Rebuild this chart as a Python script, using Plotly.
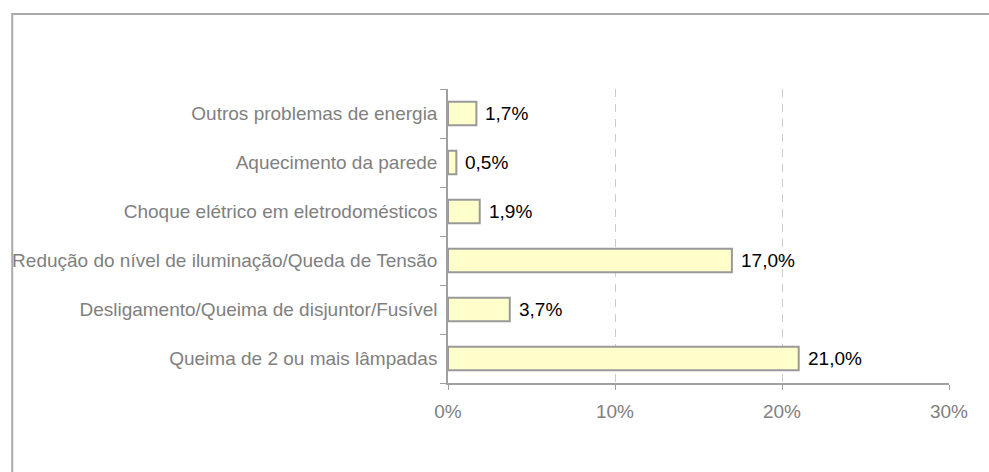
import plotly.graph_objects as go

categories = [
    "Queima de 2 ou mais lâmpadas",
    "Desligamento/Queima de disjuntor/Fusível",
    "Redução do nível de iluminação/Queda de Tensão",
    "Choque elétrico em eletrodomésticos",
    "Aquecimento da parede",
    "Outros problemas de energia",
]
values = [21.0, 3.7, 17.0, 1.9, 0.5, 1.7]
x_ticks = [0, 10, 20, 30]
x_tick_labels = ["0%", "10%", "20%", "30%"]

labels = [f"{v:.1f}%".replace(".", ",") for v in values]

FONT = "Liberation Sans, Arial, Helvetica, sans-serif"
FS = 19

fig = go.Figure(
    go.Bar(
        x=values,
        y=categories,
        orientation="h",
        marker=dict(color="#FFFFCC", line=dict(color="#999999", width=2)),
        width=0.48,
        hoverinfo="skip",
    )
)

for v, c, t in zip(values, categories, labels):
    fig.add_annotation(
        x=v, y=c, xref="x", yref="y",
        text=t, showarrow=False,
        xanchor="left", yanchor="middle",
        xshift=7,
        font=dict(color="#000000", size=FS, family=FONT),
    )

W, H = 989, 472
L, R, T, B = 446, 40, 89, 89
pw = W - L - R
ph = H - T - B

def px_to_paper_x(px):
    return (px - L) / pw

def px_to_paper_y(py):
    return (H - B - py) / ph

fig.add_shape(
    type="rect",
    xref="paper", yref="paper",
    x0=px_to_paper_x(8.5), x1=px_to_paper_x(1000),
    y0=px_to_paper_y(490), y1=px_to_paper_y(14),
    line=dict(color="#AAAAAA", width=2),
    fillcolor="rgba(0,0,0,0)",
    layer="below",
)

fig.update_layout(
    width=W, height=H,
    margin=dict(l=L, r=R, t=T, b=B, pad=0),
    paper_bgcolor="white",
    plot_bgcolor="white",
    showlegend=False,
    font=dict(family=FONT, size=FS, color="#808080"),
    xaxis=dict(
        range=[0, 30],
        tickvals=x_ticks,
        ticktext=x_tick_labels,
        showgrid=True,
        gridcolor="#CCCCCC",
        griddash="8px,7px",
        gridwidth=1,
        zeroline=False,
        showline=True,
        linecolor="#A0A0A0",
        linewidth=1.5,
        ticks="outside",
        ticklen=5,
        tickcolor="#A0A0A0",
        ticklabelstandoff=5,
        tickfont=dict(size=FS, color="#808080", family=FONT),
        fixedrange=True,
    ),
    yaxis=dict(
        categoryorder="array",
        categoryarray=categories,
        showgrid=False,
        zeroline=False,
        showline=True,
        linecolor="#A0A0A0",
        linewidth=1.5,
        ticks="outside",
        tickson="boundaries",
        ticklen=6,
        tickcolor="#A0A0A0",
        ticklabelstandoff=5,
        tickfont=dict(size=FS, color="#808080", family=FONT),
        fixedrange=True,
    ),
)

fig.write_html(
    "out.html",
    config={"displayModeBar": False},
    post_script="document.body.style.margin='0';document.body.style.overflow='hidden';",
)
